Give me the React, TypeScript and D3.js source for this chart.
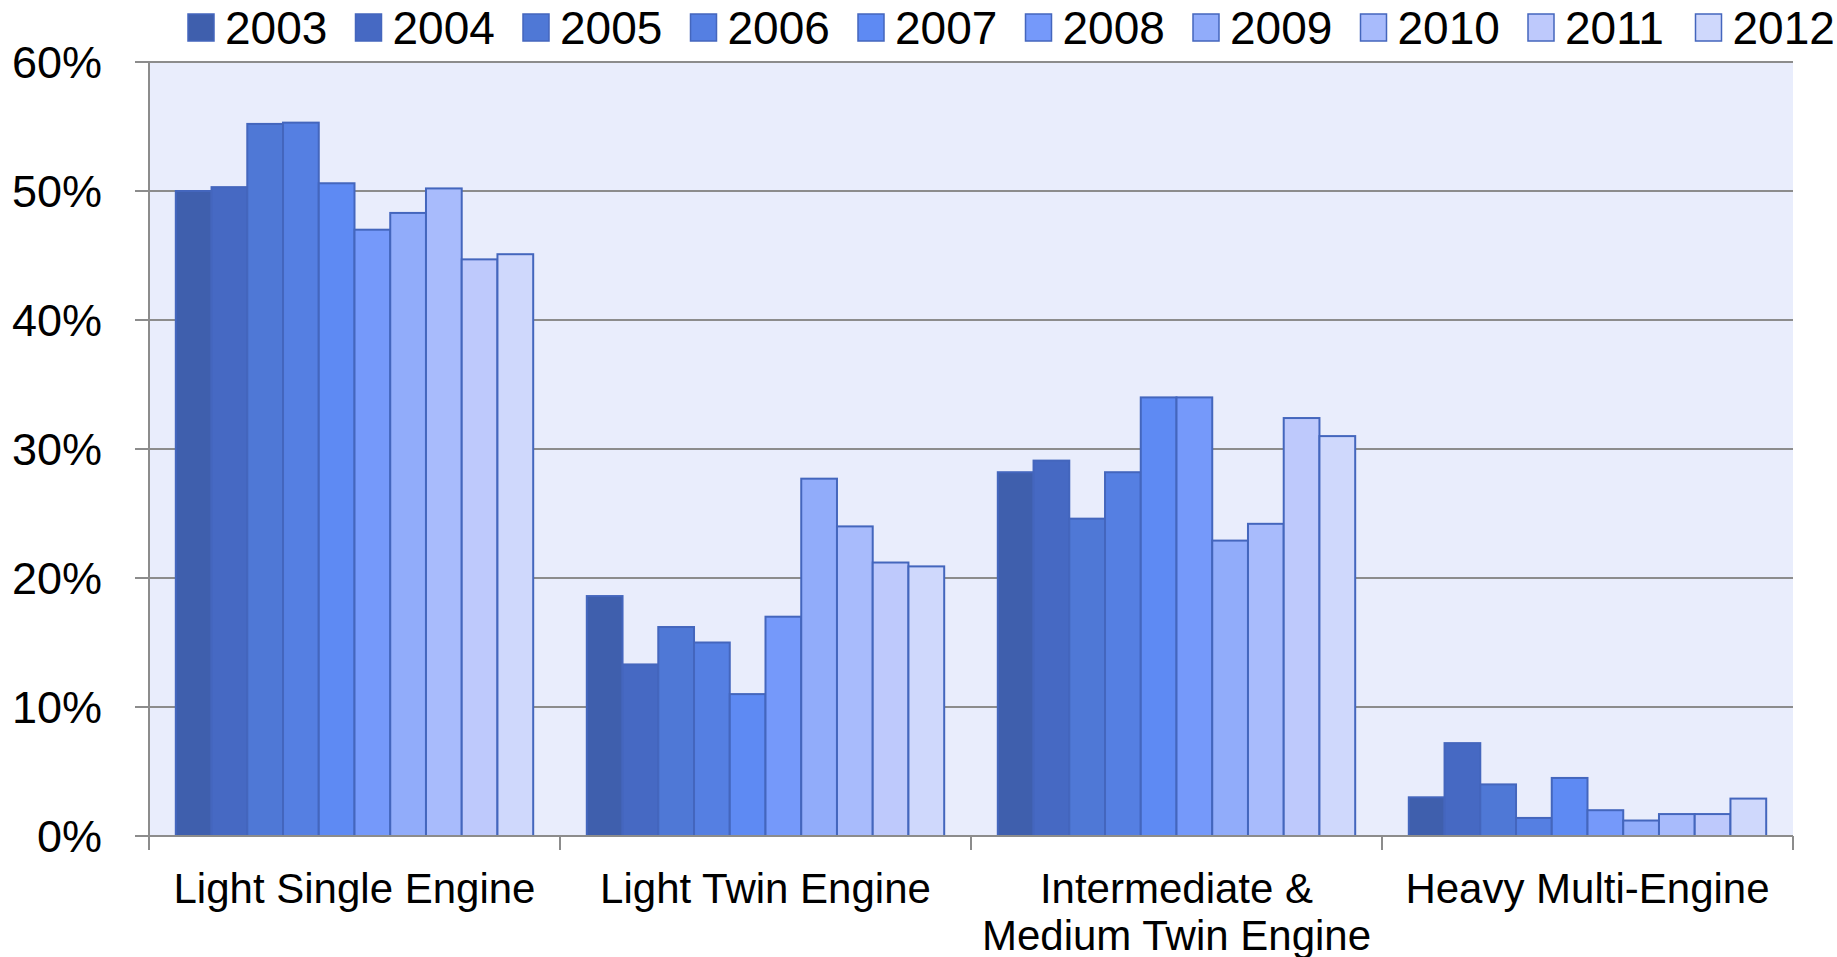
import React, { useEffect, useRef } from 'react';
import * as d3 from 'd3';

const categories = [
  'Light Single Engine',
  'Light Twin Engine',
  'Intermediate &\nMedium Twin Engine',
  'Heavy Multi-Engine',
];

const years = ['2003', '2004', '2005', '2006', '2007', '2008', '2009', '2010', '2011', '2012'];

// share per category, one array per year (in %)
const v2003 = [50.0, 18.6, 28.2, 3.0];
const v2004 = [50.3, 13.3, 29.1, 7.2];
const v2005 = [55.2, 16.2, 24.6, 4.0];
const v2006 = [55.3, 15.0, 28.2, 1.4];
const v2007 = [50.6, 11.0, 34.0, 4.5];
const v2008 = [47.0, 17.0, 34.0, 2.0];
const v2009 = [48.3, 27.7, 22.9, 1.2];
const v2010 = [50.2, 24.0, 24.2, 1.7];
const v2011 = [44.7, 21.2, 32.4, 1.7];
const v2012 = [45.1, 20.9, 31.0, 2.9];

const seriesValues = [v2003, v2004, v2005, v2006, v2007, v2008, v2009, v2010, v2011, v2012];

const yTicks = [0, 10, 20, 30, 40, 50, 60];

const colors = [
  '#3f5fad', '#4669c3', '#4f78d6', '#557fe2', '#5e8af3',
  '#7599fa', '#91acfa', '#a8bbfc', '#bec9fc', '#cfd8fc',
];

const W = 1837;
const H = 957;
const FONT = 'Arial, "Liberation Sans", sans-serif';

export default function App() {
  const svgRef = useRef<SVGSVGElement>(null);

  useEffect(() => {
    if (!svgRef.current) return;
    const svg = d3.select(svgRef.current);
    svg.selectAll('*').remove();

    const margin = { left: 149, right: W - 1793, top: 62, bottom: H - 836 };
    const innerW = W - margin.left - margin.right;
    const innerH = H - margin.top - margin.bottom;

    const x0 = d3.scaleBand().domain(categories).range([0, innerW]).paddingInner(0).paddingOuter(0);
    const x1 = d3.scaleBand().domain(years).range([0, x0.bandwidth()]).paddingOuter(0.75).paddingInner(0);
    const y = d3.scaleLinear().domain([0, 60]).range([innerH, 0]);

    const g = svg.append('g').attr('transform', `translate(${margin.left},${margin.top})`);

    // plot area background
    g.append('rect')
      .attr('x', 0).attr('y', 0)
      .attr('width', innerW).attr('height', innerH)
      .attr('fill', '#e9edfc');

    // gridlines + y ticks
    g.selectAll('.grid')
      .data(yTicks)
      .join('line')
      .attr('x1', -14)
      .attr('x2', innerW)
      .attr('y1', d => y(d))
      .attr('y2', d => y(d))
      .attr('stroke', '#8c8c8c')
      .attr('stroke-width', 2);

    g.selectAll('.ylab')
      .data(yTicks)
      .join('text')
      .attr('x', -47)
      .attr('y', d => y(d))
      .attr('dy', '0.36em')
      .attr('text-anchor', 'end')
      .attr('font-family', FONT)
      .attr('font-size', 45)
      .attr('fill', '#000')
      .text(d => `${d}%`);

    // bars
    seriesValues.forEach((vals, si) => {
      g.append('g')
        .selectAll('rect')
        .data(vals.map((v, ci) => ({ v, cat: categories[ci] })))
        .join('rect')
        .attr('x', d => (x0(d.cat) ?? 0) + (x1(years[si]) ?? 0))
        .attr('y', d => y(d.v))
        .attr('width', x1.bandwidth())
        .attr('height', d => innerH - y(d.v))
        .attr('fill', colors[si])
        .attr('stroke', '#4466bd')
        .attr('stroke-width', 2);
    });

    // y axis line
    g.append('line')
      .attr('x1', 0).attr('x2', 0)
      .attr('y1', 0).attr('y2', innerH + 14)
      .attr('stroke', '#8c8c8c').attr('stroke-width', 2);

    // x axis line + ticks
    g.append('line')
      .attr('x1', 0).attr('x2', innerW)
      .attr('y1', innerH).attr('y2', innerH)
      .attr('stroke', '#8c8c8c').attr('stroke-width', 2);

    const bounds = categories.map(c => (x0(c) ?? 0) + x0.bandwidth());
    g.selectAll('.xtick')
      .data(bounds)
      .join('line')
      .attr('x1', d => d).attr('x2', d => d)
      .attr('y1', innerH).attr('y2', innerH + 14)
      .attr('stroke', '#8c8c8c').attr('stroke-width', 2);

    // category labels
    categories.forEach(c => {
      const lines = c.split('\n');
      const cx = (x0(c) ?? 0) + x0.bandwidth() / 2;
      const t = g.append('text')
        .attr('x', cx)
        .attr('y', innerH + 67)
        .attr('text-anchor', 'middle')
        .attr('font-family', FONT)
        .attr('font-size', 42)
        .attr('fill', '#000');
      lines.forEach((ln, i) => {
        t.append('tspan')
          .attr('x', cx)
          .attr('dy', i === 0 ? 0 : 47)
          .text(ln);
      });
    });

    // legend
    const legend = svg.append('g').attr('transform', 'translate(188,0)');
    years.forEach((yr, i) => {
      const lg = legend.append('g').attr('transform', `translate(${i * 167.5},0)`);
      lg.append('rect')
        .attr('x', 0).attr('y', 14)
        .attr('width', 26).attr('height', 27)
        .attr('fill', colors[i])
        .attr('stroke', '#4466bd')
        .attr('stroke-width', 1.5);
      lg.append('text')
        .attr('x', 37)
        .attr('y', 44)
        .attr('font-family', FONT)
        .attr('font-size', 46)
        .attr('fill', '#000')
        .text(yr);
    });
  }, []);

  return (
    <div style={{ position: 'absolute', left: 0, top: 0 }}>
      <svg ref={svgRef} width={W} height={H} style={{ display: 'block', background: '#fff' }} />
    </div>
  );
}
